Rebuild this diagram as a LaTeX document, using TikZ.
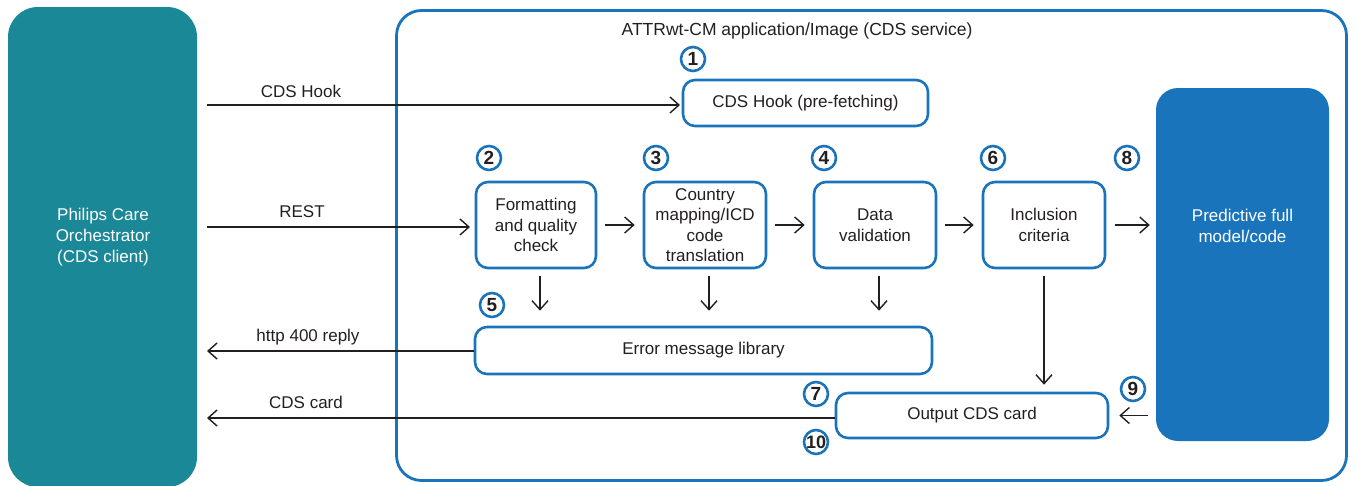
\documentclass[tikz,border=0pt]{standalone}
\usepackage{fontspec}
\setmainfont{Liberation Sans}
\usetikzlibrary{arrows.meta}
\definecolor{teal}{HTML}{1B8898}
\definecolor{pblue}{HTML}{1A74BB}
\definecolor{ink}{HTML}{231F20}
\tikzset{
  txt/.style={font=\fontsize{17}{20.5}\selectfont, text=ink, align=center},
  stepbox/.style={draw=pblue, line width=2.6pt, rounded corners=12pt, fill=white,
    inner sep=0pt, txt},
  numcirc/.style={circle, draw=pblue, line width=2.6pt, fill=white, minimum size=24pt,
    inner sep=0pt, font=\fontsize{19}{19}\bfseries\selectfont, text=ink},
  arr/.style={draw=ink, line width=1.4pt, -{Straight Barb[length=9pt,width=16pt,line width=1.4pt]}},
  lbl/.style={font=\fontsize{17}{19}\selectfont, text=ink}
}
\begin{document}
\begin{tikzpicture}[x=1pt,y=-1pt]
\useasboundingbox (0,0) rectangle (1356,485);

% client and service containers
\node[fill=teal, rounded corners=30pt, minimum width=189pt, minimum height=480pt, inner sep=0pt] (client) at (102.5,247) {};
\node[font=\fontsize{17}{21}\selectfont, text=white, align=center] at (103,237) {Philips Care\\Orchestrator\\(CDS client)};
\node[draw=pblue, line width=2.8pt, rounded corners=25pt, minimum width=950pt, minimum height=470pt, inner sep=0pt] (service) at (871.5,245.5) {};
\node[lbl, font=\fontsize{17.5}{19}\selectfont] (title) at (797,31) {ATTRwt-CM application/Image (CDS service)};

% predictive model
\node[fill=pblue, rounded corners=22pt, minimum width=173pt, minimum height=353pt, inner sep=0pt] (pred) at (1242.5,264.5) {};
\node[font=\fontsize{17}{21}\selectfont, text=white, align=center] at (1242.5,226) {Predictive full\\model/code};

% processing steps
\node[stepbox, minimum width=245pt, minimum height=46pt] (hook) at (805.5,103) {CDS Hook (pre-fetching)};
\node[stepbox, minimum width=120pt, minimum height=86pt] (fmt) at (536,225) {Formatting\\and quality\\check};
\node[stepbox, minimum width=122pt, minimum height=86pt] (map) at (705,225) {Country\\mapping/ICD\\code\\translation};
\node[stepbox, minimum width=122pt, minimum height=86pt] (val) at (875,225) {Data\\validation};
\node[stepbox, minimum width=122pt, minimum height=86pt] (inc) at (1044,225) {Inclusion\\criteria};
\node[stepbox, minimum width=457pt, minimum height=47pt] (err) at (703.5,350.5) {Error message library};
\node[stepbox, minimum width=272pt, minimum height=45pt] (out) at (972,415.5) {Output CDS card};

% numbered markers
\node[numcirc] (n1) at (693,59) {1};
\node[numcirc] (n2) at (489,158) {2};
\node[numcirc] (n3) at (656,158) {3};
\node[numcirc] (n4) at (824,158) {4};
\node[numcirc] (n5) at (492,305) {5};
\node[numcirc] (n6) at (993,158) {6};
\node[numcirc] (n7) at (816,394) {7};
\node[numcirc] (n8) at (1127,158) {8};
\node[numcirc] (n9) at (1133,389) {9};
\node[numcirc, font=\fontsize{18}{18}\bfseries\selectfont] (n10) at (816,442) {10};

% requests from the client
\coordinate (hookstart) at (207,105);
\coordinate (hookend) at (680,105);
\draw[arr] (hookstart) -- (hookend);
\node[lbl] at (301,91) {CDS Hook};
\coordinate (reststart) at (207,227);
\coordinate (restend) at (470,227);
\draw[arr] (reststart) -- (restend);
\node[lbl] at (302,212) {REST};

% replies to the client
\coordinate (httpend) at (207,351);
\draw[arr] (err.west |- httpend) -- (httpend);
\node[lbl] at (308,337) {http 400 reply};
\coordinate (cardend) at (207,418);
\draw[arr] (out.west |- cardend) -- (cardend);
\node[lbl] at (306,402) {CDS card};

% pipeline
\draw[arr, shorten <=8pt, shorten >=8pt] (fmt) -- (map);
\draw[arr, shorten <=8pt, shorten >=8pt] (map) -- (val);
\draw[arr, shorten <=8pt, shorten >=8pt] (val) -- (inc);
\draw[arr, shorten <=9pt, shorten >=6pt] (inc.east) -- (pred.west |- inc.east);

% errors
\draw[arr, shorten <=7pt, shorten >=15pt] ([xshift=4pt]fmt.south) -- ([xshift=4pt]fmt.south |- err.north);
\draw[arr, shorten <=7pt, shorten >=15pt] ([xshift=4pt]map.south) -- ([xshift=4pt]map.south |- err.north);
\draw[arr, shorten <=7pt, shorten >=15pt] ([xshift=4pt]val.south) -- ([xshift=4pt]val.south |- err.north);

% results
\draw[arr, shorten <=7pt, shorten >=7pt] (inc.south) -- (inc.south |- out.north);
\draw[arr, shorten <=8pt, shorten >=10pt] (pred.west |- out.east) -- (out.east);
\end{tikzpicture}
\end{document}
